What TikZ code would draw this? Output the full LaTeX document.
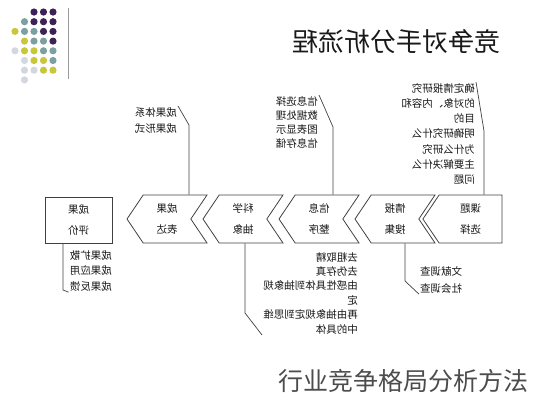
\documentclass[tikz,border=0pt]{standalone}
\usepackage{fontspec}
\newfontfamily\cjk{Noto Sans CJK SC}
\usetikzlibrary{shapes.symbols}
\usetikzlibrary{positioning}
\definecolor{dotpurple}{HTML}{3D2257}
\definecolor{dotteal}{HTML}{7C9FA0}
\definecolor{dotyellow}{HTML}{C8C63A}
\definecolor{dotgrey}{HTML}{D3D7DF}
\tikzset{flip/.style={xscale=-1},    % The scan is mirrored, so is its text
    stage/.style={              % Sets the properties for each stage
        draw=black!75,
        line width=0.8pt,
        flip,
        inner sep=0pt,
        minimum height=48pt,
        align=center,
        text=black!90,
        font=\cjk\fontsize{10.5}{21}\selectfont},
    chevron/.style={stage, signal, signal to=east, signal from=west,
        signal pointer angle=112, minimum width=80pt},
    firststage/.style={stage, signal, signal to=east,
        signal pointer angle=112, minimum width=79pt},
    laststage/.style={stage, minimum width=67pt, minimum height=46pt},
    note/.style={               % Notes beside the stages
        flip,
        inner sep=1pt,
        align=left,
        text=black!90,
        font=\cjk\fontsize{10.5}{#1}\selectfont},
    note/.default=15,
    callout/.style={draw=black!75, line width=0.7pt}}

\begin{document}
\begin{tikzpicture}[x=1pt,y=-1pt]
    \useasboundingbox (0,0) rectangle (533,400);

    % dots in the corner
    \foreach \c/\r/\col in {2/0/dotpurple, 3/0/dotpurple, 4/0/dotpurple,
        1/1/dotteal, 2/1/dotpurple, 3/1/dotpurple, 4/1/dotpurple,
        0/2/dotyellow, 1/2/dotteal, 2/2/dotteal, 3/2/dotpurple, 4/2/dotpurple,
        1/3/dotyellow, 2/3/dotteal, 3/3/dotteal, 4/3/dotpurple,
        0/4/dotgrey, 1/4/dotyellow, 2/4/dotyellow, 3/4/dotteal, 4/4/dotteal,
        1/5/dotgrey, 2/5/dotyellow, 3/5/dotyellow, 4/5/dotteal,
        1/6/dotgrey, 2/6/dotgrey, 3/6/dotyellow, 4/6/dotyellow,
        1/7/dotgrey}
        \fill[\col] (15+9.5*\c, 12+9.7*\r) circle (3.6);
    \coordinate (bartop) at (68,8);
    \coordinate (barbot) at (68,79);
    \draw[black!40, line width=1pt] (bartop) -- (barbot);

    \node[flip, text=black!90, font=\cjk\fontsize{26}{26}\selectfont] (title) at (396,42) {竞争对手分析流程};

    % the chain
    \node[firststage] (ktxz) at (470.5,219) {课题\\选择};
    \node[chevron] (qbsj) at (395,219) {情报\\搜集};
    \node[chevron] (xxzx) at (319,219) {信息\\整序};
    \node[chevron] (kxcx) at (243,219) {科学\\抽象};
    \node[chevron] (cgbd) at (167,219) {成果\\表达};
    \node[laststage] (cgpj) at (78.5,220) {成果\\评价};

    % notes
    \node[note=15.3, anchor=north west] (ktnote) at (476,82)
        {确定情报研究\\的对象、内容和\\目的\\明确研究什么\\为什么研究\\主要解决什么\\问题};
    \node[note=14, anchor=north west] (xxnote) at (319,95)
        {信息选择\\数据处理\\图表显示\\信息存储};
    \node[note=16, anchor=north west] (bdnote) at (178,106)
        {成果体系\\成果形式};
    \node[note=17, anchor=north east] (sjnote) at (419,265)
        {文献调查\\社会调查};
    \node[note=14.4, anchor=north west] (cxnote) at (359,251)
        {去粗取精\\去伪存真\\由感性具体到抽象规\\定\\再由抽象规定到思维\\中的具体};
    \node[note=15.5, anchor=north west] (pjnote) at (113,249)
        {成果扩散\\成果应用\\成果反馈};

    \coordinate (ktbend) at (484,131);
    \coordinate (xxbend) at (333,127);
    \coordinate (bdbend) at (189,125);
    \coordinate (sjbend) at (405,281);
    \coordinate (cxbend) at (245,313);
    \coordinate (pjbend) at (63,290);
    \draw[callout] (ktnote.north west) -- (ktbend) -- (ktbend |- ktxz.north);
    \draw[callout] (xxnote.north west) -- (xxbend) -- (xxbend |- xxzx.north);
    \draw[callout] (bdnote.north west) -- (bdbend) -- (bdbend |- cgbd.north);
    \draw[callout] (sjbend |- qbsj.south) -- (sjbend) -- (sjnote.south east);
    \draw[callout] (cxbend |- kxcx.south) -- (cxbend) -- (cxnote.south east);
    \draw[callout] (pjbend |- cgpj.south) -- (pjbend) -- (pjnote.south east);

    \node[text=black!70, font=\cjk\fontsize{25}{25}\selectfont] (caption) at (403,381) {行业竞争格局分析方法};
\end{tikzpicture}
\end{document}
